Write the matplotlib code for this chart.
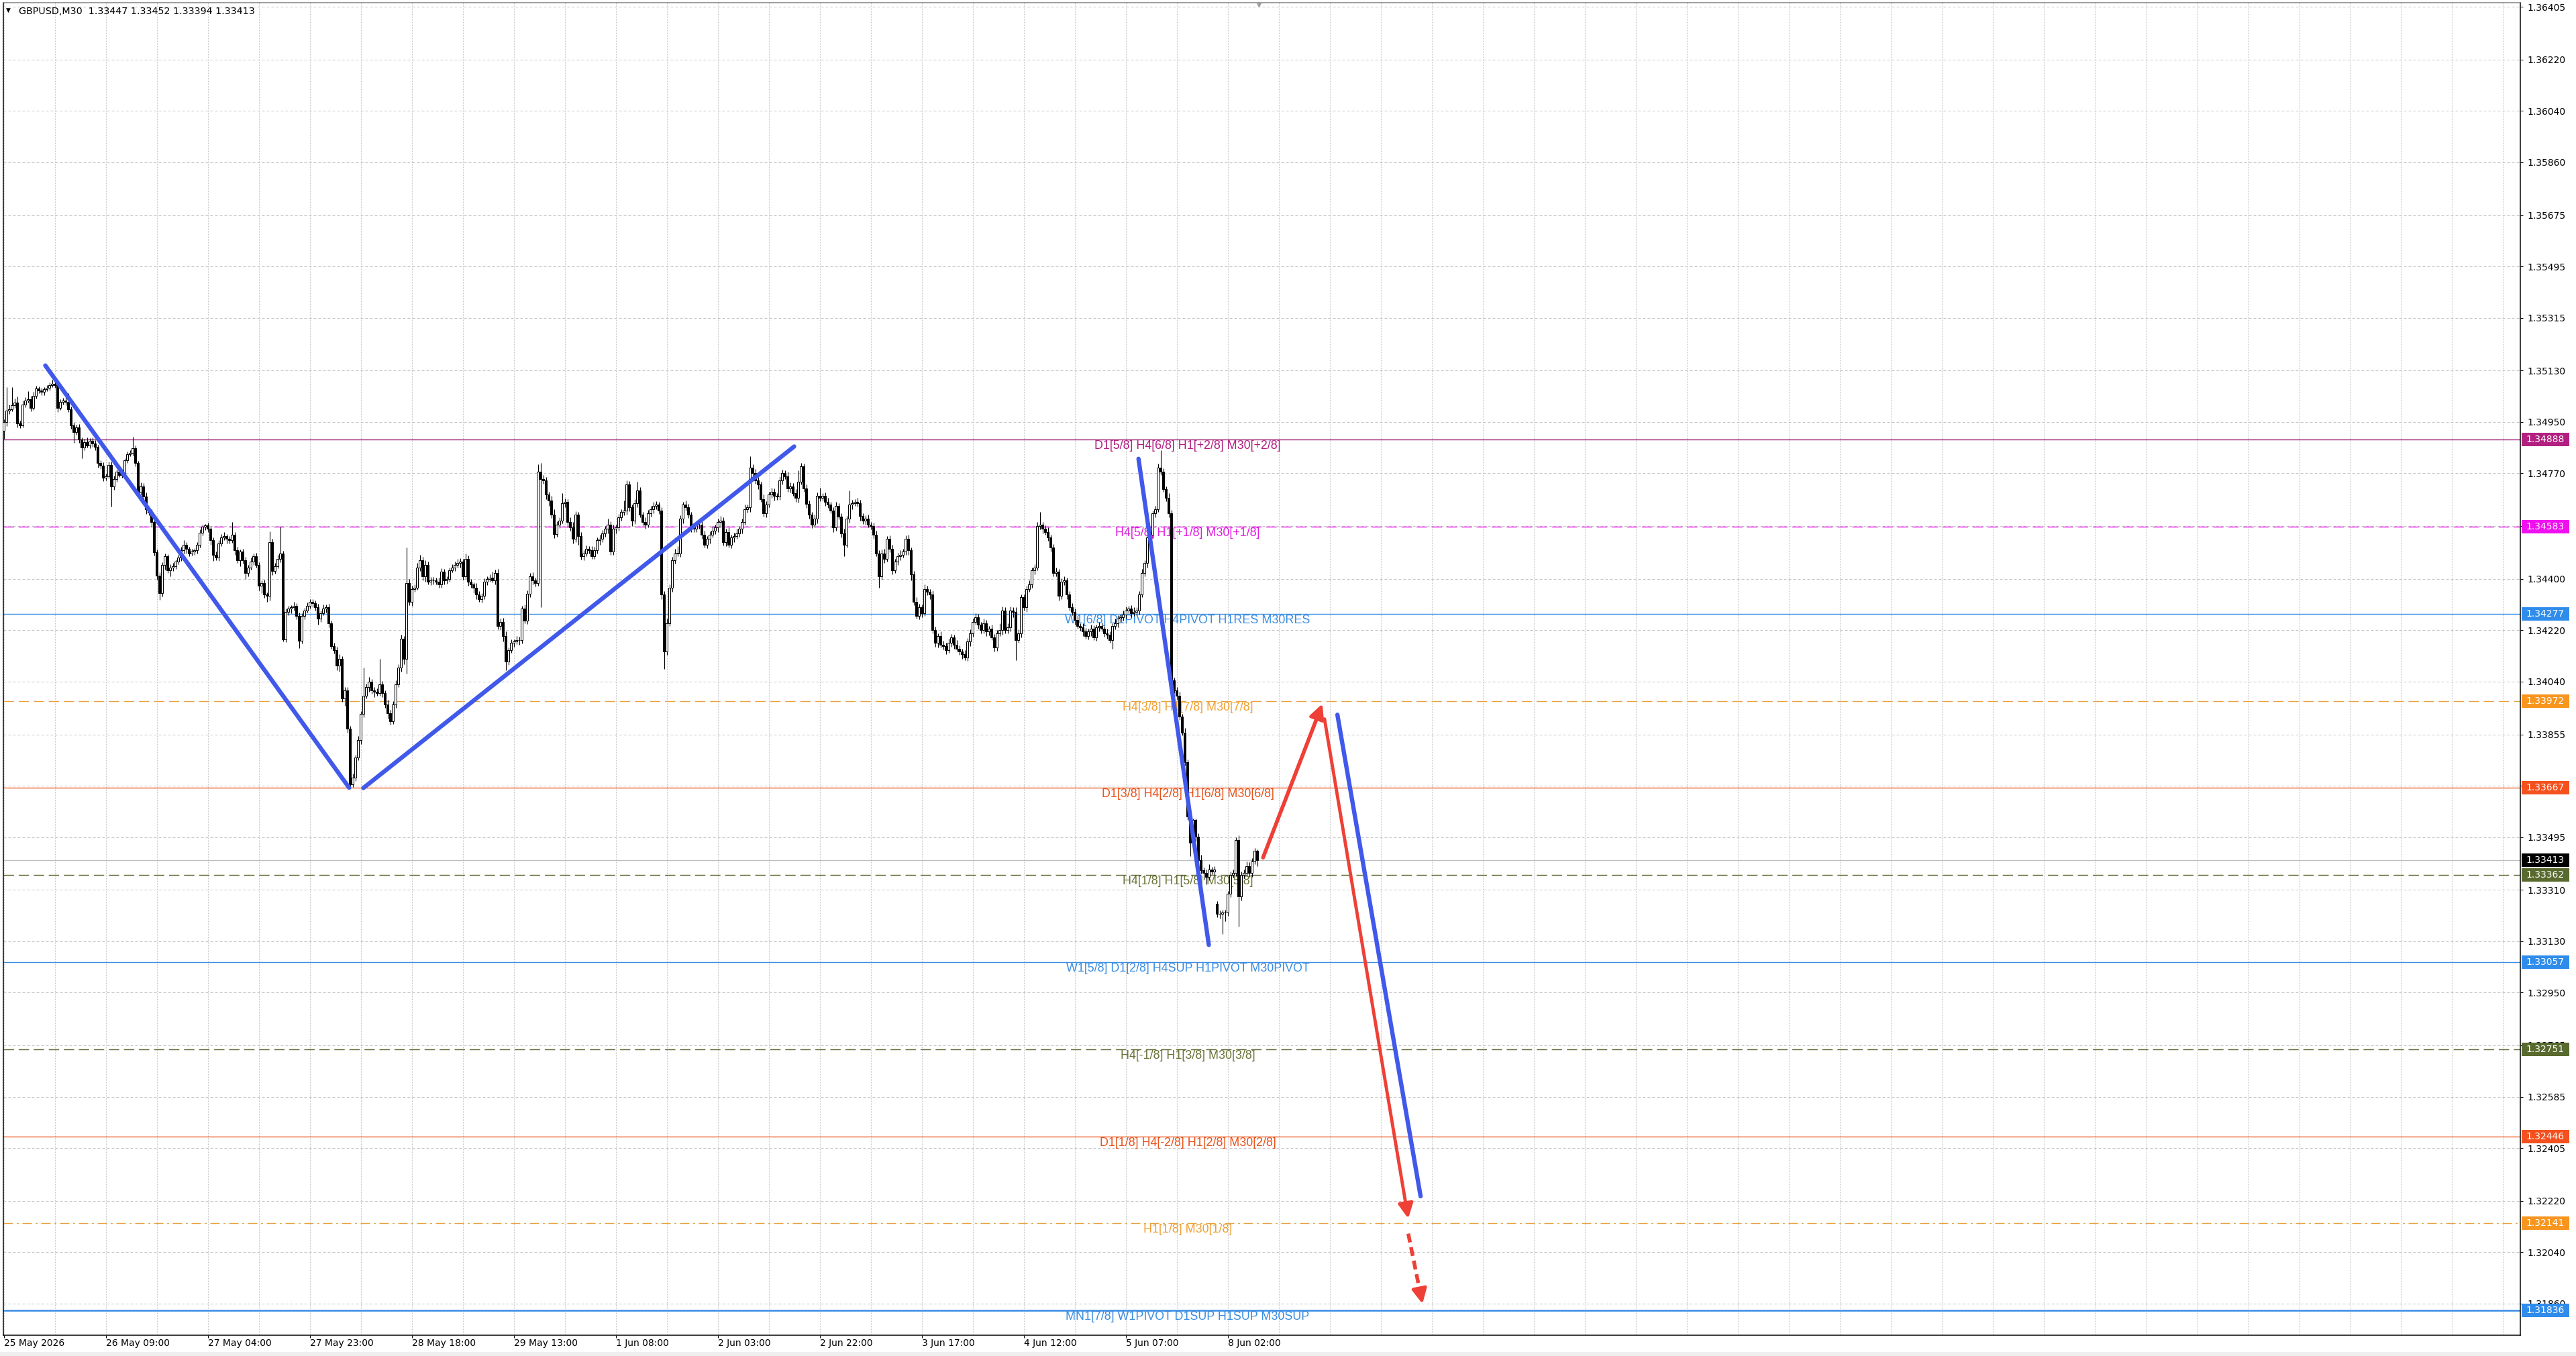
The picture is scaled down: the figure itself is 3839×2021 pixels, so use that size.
import numpy as np
import matplotlib
matplotlib.use('Agg')
import matplotlib.pyplot as plt
from matplotlib.patches import Rectangle

W, H, DPI = 3839, 2021, 100
PX = 72.0 / DPI  # points per pixel

# ---------------- data (price codes: price = 1.3 + code/1e5) ----------------
closes_code = [
 4950,4990,4995,5009,5019,4944,4939,5011,5026,5029,
 5000,5041,5067,5060,5055,5065,5070,5080,5085,5080,
 5000,5020,5026,5020,4995,4939,4915,4930,4888,4860,
 4880,4868,4885,4875,4862,4806,4796,4755,4760,4800,
 4725,4750,4775,4765,4770,4816,4837,4842,4857,4806,
 4704,4725,4689,4643,4633,4600,4494,4412,4351,4448,
 4479,4430,4440,4445,4460,4475,4500,4520,4505,4490,
 4495,4500,4520,4561,4582,4587,4577,4535,4484,4475,
 4525,4545,4550,4540,4535,4555,4500,4465,4495,4465,
 4420,4440,4460,4480,4450,4375,4385,4345,4340,4530,
 4428,4445,4470,4490,4188,4285,4295,4300,4305,4270,
 4183,4270,4290,4305,4320,4315,4300,4260,4280,4295,
 4300,4245,4165,4150,4095,4120,3980,4010,3876,3680,
 3703,3774,3836,3927,3990,4020,4040,4010,4005,4000,
 4030,4000,3960,3930,3900,3960,4030,4090,4190,4120,
 4385,
 4320,4365,4370,4440,4465,4410,4450,4390,4395,4395,
 4390,4380,4425,4395,4400,4430,4440,4450,4455,4460,
 4410,4470,4390,4380,4370,4345,4330,4340,4390,4400,
 4405,4395,4420,4235,4250,4200,4110,4150,4175,4180,
 4185,4185,4295,4254,4347,4410,4395,4385,4776,4750,
 4745,4695,4675,4625,4558,4590,4605,4665,4670,4600,
 4580,4540,4625,4550,4480,4490,4505,4500,4480,4500,
 4535,4540,4560,4575,4590,4495,4575,4580,4615,4635,
 4640,4730,4650,4605,4665,4710,4625,4600,4590,4630,
 4645,4655,4660,4640,4345,4145,4245,4370,4465,4490,
 4490,4610,4660,4650,4625,4580,4575,4590,4590,4555,
 4520,4540,4555,4570,4580,4600,4605,4530,4565,4520,
 4545,4550,4560,4575,4600,4645,4650,4790,4770,4745,
 4730,4680,4630,4660,4695,4705,4690,4688,4745,4770,
 4760,4717,4725,4700,4683,4740,4795,4717,4663,4625,
 4590,4610,4690,
 4685,4690,4670,4660,4640,4580,4655,4618,4560,4520,
 4610,4660,4665,4670,4665,4620,4605,4610,4590,4585,
 4555,4490,4410,4490,4470,4540,4505,4430,4460,4480,
 4485,4495,4540,4500,4415,4320,4270,4300,4280,4365,
 4355,4345,4220,4175,4200,4170,4165,4150,4175,4195,
 4170,4155,4145,4135,4125,4180,4210,4250,4265,4240,
 4220,4245,4215,4225,4195,4160,4210,4220,4290,4220,
 4230,4290,4285,4185,4210,4335,4300,4365,4380,4430,
 4440,4585,4590,4575,4565,4545,4510,4420,4425,4340,
 4390,4395,4345,4300,4285,4255,4235,4230,4215,4200,
 4215,4225,4195,4230,4235,4225,4210,4205,4185,4235,
 4245,4260,4265,4275,4290,4295,4280,4285,4290,4345,
 4420,4455,4545,4555,4630,4645,4790,4775,
 4715,4685,4630,4044,4010,3990,3917,3862,3757,3566,
 3476,3555,3496,3414,3378,3370,3355,3380,3375,3380,
 3226,3225,3230,3230,3296,3363,3370,3484,3288,3363,
 3370,3394,3370,3410,3447,3413,
]
gap_opens = {0: 4920, 452: 3261}

upper_wick = [
 10,82,15,63,12,20,10,15,10,29,12,14,10,8,10,8,10,8,12,10,
 12,10,8,12,30,10,8,10,12,8,10,15,8,10,12,8,10,12,8,10,
 10,12,8,10,12,8,10,8,41,10,8,12,10,15,8,10,8,10,12,10,
 10,8,12,10,8,10,12,15,10,8,10,8,10,12,8,5,10,8,10,12,
 10,12,15,8,10,45,10,12,8,10,12,10,15,10,12,8,10,12,8,36,
 10,12,15,92,8,12,10,8,15,10,12,10,8,12,10,8,10,12,10,15,
 10,12,8,10,12,15,10,12,10,8,15,10,12,10,100,12,15,10,12,10,
 90,12,10,15,10,12,15,10,15,10,125,15,12,10,15,20,12,15,10,12,
 12,10,15,12,10,8,10,12,10,15,12,10,20,12,10,8,15,12,10,12,
 10,12,20,12,15,10,12,15,10,12,8,15,12,10,15,12,10,12,10,25,
 30,15,12,10,15,20,12,10,35,12,10,15,20,12,10,15,10,12,10,15,
 12,10,15,12,10,20,12,15,10,12,10,35,15,12,10,15,30,12,10,15,
 12,10,15,12,10,10,12,15,10,12,15,25,12,10,15,12,10,12,15,10,
 12,15,10,12,15,10,12,15,10,12,15,10,12,15,10,12,15,10,40,12,
 15,12,10,15,12,10,15,12,10,15,12,10,15,12,10,15,40,12,10,15,
 12,10,15,12,30,10,12,15,10,12,15,10,12,15,10,50,12,10,15,12,
 10,12,15,10,12,15,10,12,15,10,12,15,10,12,15,10,12,15,10,12,
 15,12,10,15,12,10,15,12,10,15,12,10,15,12,10,15,12,10,15,12,
 12,10,15,12,10,15,12,10,15,12,10,25,12,10,15,12,10,15,12,10,
 10,12,15,10,12,15,45,10,12,15,10,12,15,10,12,15,10,12,15,10,
 12,10,15,12,10,15,12,10,15,12,10,15,12,10,15,12,10,15,12,10,
 12,15,10,12,15,10,12,15,10,12,15,60,12,10,15,12,10,12,15,10,
 15,10,10,5,5,12,20,10,12,20,10,12,10,12,10,10,10,12,10,9,
 16,12,10,15,12,12,10,5,
]
lower_wick = [
 30,15,12,8,10,12,10,8,10,8,12,8,10,8,10,10,8,10,8,10,
 15,8,10,12,10,12,37,10,12,38,10,8,10,12,10,15,10,12,10,8,
 72,12,10,8,10,12,10,8,10,12,15,10,12,15,10,20,12,15,25,12,
 15,10,20,12,10,8,12,10,15,10,8,10,12,10,8,10,12,15,20,10,
 12,10,8,15,10,8,15,10,20,12,20,10,8,12,10,15,25,12,20,15,
 15,10,8,12,8,10,12,15,10,12,25,10,12,8,10,15,10,20,12,8,
 12,15,10,12,15,20,12,25,15,15,10,12,10,15,12,10,15,12,20,10,
 10,15,12,20,10,8,12,10,15,20,52,12,15,10,8,12,15,20,10,12,
 15,10,12,10,15,12,10,8,12,10,15,12,10,15,12,20,15,10,12,10,
 12,10,8,15,12,15,20,30,12,10,12,8,15,12,10,12,10,15,12,10,
 450,12,15,20,12,15,10,12,10,15,20,12,15,10,30,12,15,10,12,10,
 10,12,15,10,12,15,12,10,15,12,10,12,15,12,20,12,15,10,12,15,
 10,12,15,10,12,15,60,12,10,15,12,10,12,15,10,12,15,10,12,15,
 15,10,12,15,10,12,15,20,12,15,10,12,15,10,12,15,10,12,15,10,
 12,15,10,12,15,10,12,15,10,12,15,10,12,15,10,12,15,10,12,15,
 15,12,10,15,12,10,15,12,10,15,12,10,15,40,10,12,15,10,12,15,
 12,15,10,12,15,10,40,12,15,10,12,15,10,12,15,10,12,15,20,12,
 10,12,15,10,12,15,10,12,15,10,12,15,10,12,15,10,12,15,10,12,
 15,12,10,15,12,10,15,12,10,15,12,10,15,12,10,15,20,70,10,15,
 12,15,10,12,15,10,12,15,10,12,15,10,12,15,10,12,15,10,12,15,
 10,12,15,10,12,15,10,12,15,10,12,15,10,30,12,15,10,12,15,10,
 15,10,12,15,10,12,15,10,12,15,10,12,10,12,15,12,10,15,12,10,
 12,10,47,10,15,20,10,25,25,12,10,12,12,15,70,30,10,12,10,12,
 106,15,12,12,15,15,10,19,
]

x_tick_pos = [0, 38, 76, 114, 152, 190, 228, 266, 304, 342, 380, 418, 456]
x_tick_labels = ['25 May 2026', '26 May 09:00', '27 May 04:00', '27 May 23:00',
                 '28 May 18:00', '29 May 13:00', '1 Jun 08:00', '2 Jun 03:00',
                 '2 Jun 22:00', '3 Jun 17:00', '4 Jun 12:00', '5 Jun 07:00',
                 '8 Jun 02:00']
y_ticks = [1.36405, 1.36220, 1.36040, 1.35860, 1.35675, 1.35495, 1.35315, 1.35130,
           1.34950, 1.34770, 1.34585, 1.34400, 1.34220, 1.34040, 1.33855, 1.33675,
           1.33495, 1.33310, 1.33130, 1.32950, 1.32765, 1.32585, 1.32405, 1.32220,
           1.32040, 1.31860]

levels = [1.34888, 1.34583, 1.34277, 1.33972, 1.33667, 1.33362, 1.33057,
          1.32751, 1.32446, 1.32141, 1.31836]
level_texts = ['D1[5/8] H4[6/8] H1[+2/8] M30[+2/8]',
               'H4[5/8] H1[+1/8] M30[+1/8]',
               'W1[6/8] D1PIVOT H4PIVOT H1RES M30RES',
               'H4[3/8] H1[7/8] M30[7/8]',
               'D1[3/8] H4[2/8] H1[6/8] M30[6/8]',
               'H4[1/8] H1[5/8] M30[5/8]',
               'W1[5/8] D1[2/8] H4SUP H1PIVOT M30PIVOT',
               'H4[-1/8] H1[3/8] M30[3/8]',
               'D1[1/8] H4[-2/8] H1[2/8] M30[2/8]',
               'H1[1/8] M30[1/8]',
               'MN1[7/8] W1PIVOT D1SUP H1SUP M30SUP']

# drawn analysis lines (bar index, price)
blue_lines = [[(15.5, 1.35148), (128.7, 1.33668)],
              [(134.0, 1.33667), (294.5, 1.34864)],
              [(422.8, 1.34821), (449.0, 1.33117)],
              [(496.9, 1.33924), (527.9, 1.32236)]]
red_up = [(469.2, 1.33423), (491.3, 1.33962)]
red_down = [(492.1, 1.33909), (523.3, 1.32158)]
red_dashed = [(523.3, 1.32105), (528.6, 1.31859)]

# ---------------- styles ----------------
line_colors = ['#A3267F', '#F01EF0', '#3D8FE5', '#E9A23F', '#EE6430', '#56652C',
               '#3D8FE5', '#56652C', '#EE6430', '#E9A23F', '#3D8FE5']
text_colors = ['#B01E82', '#E01DE0', '#3A8DE0', '#F0A030', '#E8531C', '#6A7338',
               '#3A8DE0', '#6A7338', '#E8531C', '#F0A030', '#3A8DE0']
box_colors = ['#B21F80', '#F00FF0', '#2F8CEB', '#F7951E', '#F4511E', '#586A2E',
              '#2F8CEB', '#586A2E', '#F4511E', '#F7951E', '#2F8CEB']
line_styles = ['solid', 'dash', 'solid', 'dash', 'solid', 'dash', 'solid', 'dash',
               'solid', 'dashdot', 'solid']
line_widths = [1.4, 1.4, 1.4, 1.4, 1.4, 1.4, 1.4, 1.4, 1.4, 1.4, 2.6]

BLUE = '#4159EA'
RED = '#EE4036'

# ---------------- build OHLC ----------------
n = len(closes_code)
assert len(upper_wick) == n and len(lower_wick) == n, (n, len(upper_wick), len(lower_wick))
c = np.array(closes_code, dtype=float)
o = np.empty(n)
o[1:] = c[:-1]
for k, v in gap_opens.items():
    o[k] = v
hi = np.maximum(o, c) + np.array(upper_wick)
lo = np.minimum(o, c) - np.array(lower_wick)
O = 1.3 + o / 1e5
C = 1.3 + c / 1e5
Hh = 1.3 + hi / 1e5
Ll = 1.3 + lo / 1e5
# last bar header values from chart
O[-1], Hh[-1], Ll[-1], C[-1] = 1.33447, 1.33452, 1.33394, 1.33413
x = np.arange(n)

# ---------------- figure ----------------
fig = plt.figure(figsize=(W / DPI, H / DPI), dpi=DPI, facecolor='white')
ax_left, ax_right, ax_top, ax_bottom = 5, 3756, 4, 1990
ax = fig.add_axes([ax_left / W, (H - ax_bottom) / H, (ax_right - ax_left) / W,
                   (ax_bottom - ax_top) / H])
ax.set_facecolor('white')

x0px = 5.5
ax.set_xlim((ax_left - x0px) / 4.0, (ax_right - x0px) / 4.0)
pp = 42520.0
ax.set_ylim(1.31836 - (ax_bottom - 1953) / pp, 1.31836 + (1953 - ax_top) / pp)

# grid
grid_col = '#C4C4C4'
for yt in y_ticks:
    ax.axhline(yt, color=grid_col, lw=PX, dashes=(4, 3), zorder=0.5)
for xv in range(0, 940, 19):
    ax.axvline(xv, color=grid_col, lw=PX, dashes=(2, 2), zorder=0.5)

# level lines + labels
label_x = (1770 - x0px) / 4.0
for lv, txt, lc, tc, st, lw in zip(levels, level_texts, line_colors, text_colors,
                                   line_styles, line_widths):
    kw = dict(color=lc, lw=lw * PX, zorder=1)
    if st == 'dash':
        kw['dashes'] = (11, 5)
    elif st == 'dashdot':
        kw['dashes'] = (10, 4, 2, 4)
    ax.axhline(lv, **kw)
    ax.text(label_x, lv - 1.0 / pp, txt, color=tc, fontsize=12.9, ha='center', va='top',
            family=['Liberation Sans', 'DejaVu Sans'], zorder=1.5)

# current price line
ax.axhline(C[-1], color='#BEBEBE', lw=1.3 * PX, zorder=1)

# candles
ax.vlines(x, Ll, Hh, color='black', lw=1.1 * PX, zorder=3)
bull = C >= O
body_bottom = np.minimum(O, C)
body_h = np.maximum(np.abs(C - O), 0.4 / pp)
ax.bar(x[bull], body_h[bull], bottom=body_bottom[bull], width=0.55, color='white',
       edgecolor='black', linewidth=PX, zorder=4)
ax.bar(x[~bull], body_h[~bull], bottom=body_bottom[~bull], width=0.55, color='black',
       edgecolor='black', linewidth=PX, zorder=4)

# analysis lines
for (p1, p2) in blue_lines:
    ax.plot([p1[0], p2[0]], [p1[1], p2[1]], color=BLUE, lw=4.6,
            solid_capstyle='round', zorder=6)
ax.plot([red_up[0][0], red_up[1][0] - 1.2], [red_up[0][1], red_up[1][1] - 0.00030],
        color=RED, lw=4.0, solid_capstyle='round', zorder=6)
ax.annotate('', xy=red_up[1], xytext=red_up[0],
            arrowprops=dict(arrowstyle='-|>,head_length=1.1,head_width=0.55',
                            color=RED, lw=3.5, shrinkA=0, shrinkB=0, mutation_scale=12),
            zorder=6)
ax.annotate('', xy=red_down[1], xytext=red_down[0],
            arrowprops=dict(arrowstyle='-|>,head_length=1.1,head_width=0.55',
                            color=RED, lw=3.5, shrinkA=0, shrinkB=0, mutation_scale=12),
            zorder=6)
ds, de = red_dashed
fx = lambda t: (ds[0] + (de[0] - ds[0]) * t, ds[1] + (de[1] - ds[1]) * t)
pa, pb = fx(0.0), fx(0.78)
ax.plot([pa[0], pb[0]], [pa[1], pb[1]], color=RED, lw=4.0, dashes=(2.4, 1.3),
        solid_capstyle='butt', zorder=6)
ax.annotate('', xy=de, xytext=fx(0.8),
            arrowprops=dict(arrowstyle='-|>,head_length=1.1,head_width=0.55',
                            color=RED, lw=3.5, shrinkA=0, shrinkB=0, mutation_scale=12),
            zorder=6)

# chart-shift marker
ax.plot([(1876 - x0px) / 4.0], [1.31836 + (1953 - 7) / pp], marker='v', ms=5,
        color='#A0A0A0', clip_on=False, zorder=7)

# axes styling
for sp in ax.spines.values():
    sp.set_color('black')
    sp.set_linewidth(1.5 * PX)
ax.spines['top'].set_color('#808080')
ax.yaxis.tick_right()
ax.set_yticks(y_ticks)
ax.set_yticklabels(['%.5f' % v for v in y_ticks])
ax.tick_params(axis='y', direction='out', length=4 * PX, width=PX, pad=6 * PX,
               labelsize=10, colors='black')
ax.set_xticks(x_tick_pos)
ax.set_xticklabels(x_tick_labels, ha='left')
ax.tick_params(axis='x', direction='out', length=4 * PX, width=PX, pad=1 * PX,
               labelsize=10, colors='black')
ax.tick_params(which='minor', length=0)

# price boxes on the axis
ytr = ax.get_yaxis_transform()
bx0 = (3757.5 - ax_left) / (ax_right - ax_left)
bx1 = (3829.0 - ax_left) / (ax_right - ax_left)
tx0 = (3764.0 - ax_left) / (ax_right - ax_left)
bh = 20.0 / pp
box_levels = levels + [C[-1]]
box_cols = box_colors + ['#000000']
for lv, bc in zip(box_levels, box_cols):
    ax.add_patch(Rectangle((bx0, lv - bh / 2), bx1 - bx0, bh, transform=ytr,
                           facecolor=bc, edgecolor='none', clip_on=False, zorder=8))
    ax.text(tx0, lv, '%.5f' % lv, transform=ytr, color='white', fontsize=10,
            va='center', ha='left', clip_on=False, zorder=9)

# header
fig.text(9.0 / W, 1 - 15.5 / H, '\u25BC', fontsize=6.5, va='center', ha='left',
         color='black')
fig.text(28.0 / W, 1 - 16.7 / H,
         'GBPUSD,M30  %.5f %.5f %.5f %.5f' % (O[-1], Hh[-1], Ll[-1], C[-1]),
         fontsize=10.3, va='center', ha='left', color='black')

# thin frame strip at bottom
fig.patches.append(Rectangle((0, 0), 1, 6.0 / H, transform=fig.transFigure,
                             facecolor='#EFEFEF', edgecolor='none', zorder=0))

fig.savefig('out.png', dpi=DPI, facecolor='white')
